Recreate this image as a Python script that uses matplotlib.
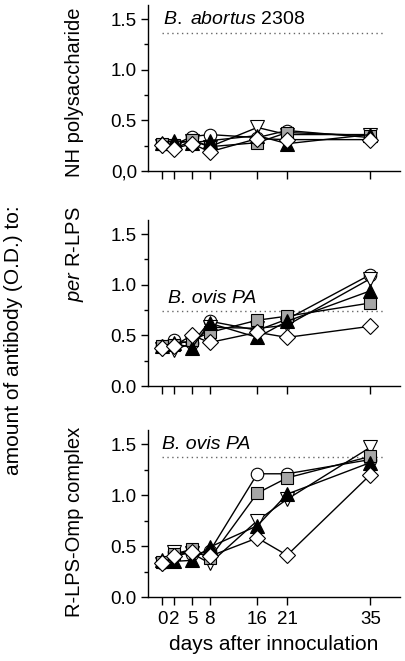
import matplotlib
matplotlib.use("Agg")
import matplotlib.pyplot as plt
from matplotlib.ticker import MultipleLocator

plt.rcParams['font.family'] = ['Liberation Sans', 'DejaVu Sans']
plt.rcParams['mathtext.fontset'] = 'custom'
plt.rcParams['mathtext.rm'] = 'Liberation Sans'
plt.rcParams['mathtext.it'] = 'Liberation Sans:italic'

days = [0, 2, 5, 8, 16, 21, 35]
xtick_labels = ['0', '2', '5', '8', '16', '21', '35']

# Panel 1: NH polysaccharide
nh_circle = [0.27, 0.26, 0.34, 0.36, 0.33, 0.40, 0.33]
nh_invtri = [0.25, 0.22, 0.30, 0.24, 0.43, 0.36, 0.36]
nh_square = [0.27, 0.26, 0.31, 0.24, 0.28, 0.38, 0.35]
nh_tri = [0.28, 0.30, 0.28, 0.30, 0.35, 0.27, 0.36]
nh_diamond = [0.26, 0.22, 0.27, 0.19, 0.32, 0.31, 0.31]

# Panel 2: per R-LPS
pr_circle = [0.40, 0.45, 0.42, 0.64, 0.55, 0.66, 1.10]
pr_invtri = [0.37, 0.36, 0.42, 0.58, 0.57, 0.60, 1.06]
pr_square = [0.40, 0.41, 0.45, 0.53, 0.65, 0.69, 0.82]
pr_tri = [0.40, 0.42, 0.38, 0.62, 0.48, 0.64, 0.94]
pr_diamond = [0.38, 0.40, 0.50, 0.43, 0.53, 0.48, 0.59]

# Panel 3: R-LPS-Omp complex
ro_circle = [0.33, 0.44, 0.42, 0.45, 1.21, 1.21, 1.35]
ro_invtri = [0.32, 0.44, 0.43, 0.33, 0.75, 0.96, 1.47]
ro_square = [0.34, 0.42, 0.47, 0.38, 1.02, 1.17, 1.38]
ro_tri = [0.36, 0.35, 0.36, 0.49, 0.70, 1.01, 1.32]
ro_diamond = [0.33, 0.40, 0.44, 0.40, 0.58, 0.41, 1.20]

ref_levels = [1.36, 0.74, 1.37]
ref_labels = [r'$\it{B.\ abortus}$ 2308', 'B. ovis PA', 'B. ovis PA']
panel_labels = ['NH polysaccharide', r'$\it{per}$ R-LPS', 'R-LPS-Omp complex']
ytick_labels_top = ['0,0', '0.5', '1.0', '1.5']
ytick_labels = ['0.0', '0.5', '1.0', '1.5']

panels = [
    [nh_circle, nh_invtri, nh_square, nh_tri, nh_diamond],
    [pr_circle, pr_invtri, pr_square, pr_tri, pr_diamond],
    [ro_circle, ro_invtri, ro_square, ro_tri, ro_diamond],
]

styles = [
    dict(marker='o', mfc='white', ms=9),
    dict(marker='v', mfc='white', ms=9.5),
    dict(marker='s', mfc='#a6a6a6', ms=8),
    dict(marker='^', mfc='black', ms=9.5),
    dict(marker='D', mfc='white', ms=8),
]

fig = plt.figure(figsize=(4.05, 6.61), dpi=100)
W, H = 405, 661
left, right = 148 / W, 400 / W
boxes = [(5, 171), (220, 386), (430, 597)]
label_bottoms = [177, 302, 617]
ref_text_pos = [(0.2, 1.50), (0.9, 0.86), (-0.1, 1.50)]

for i, (top, bot) in enumerate(boxes):
    ax = fig.add_axes([left, 1 - bot / H, right - left, (bot - top) / H])
    order = [4, 2, 0, 1, 3]
    for k in order:
        st = styles[k]
        ax.plot(days, panels[i][k], color='black', lw=1.0, marker=st['marker'],
                mfc=st['mfc'], mec='black', mew=0.8, ms=st['ms'], zorder=3 + k)
    ax.plot([0, 37.5], [ref_levels[i]] * 2, color='#666666', lw=1.0,
            ls=(0, (1, 2.5)), zorder=2)
    ax.set_xlim(-2.4, 40)
    ax.set_ylim(0, 1.64)
    ax.spines['top'].set_visible(False)
    ax.spines['right'].set_visible(False)
    ax.spines['left'].set_linewidth(1.0)
    ax.spines['bottom'].set_linewidth(1.0)
    ax.set_xticks(days)
    ax.set_yticks([0, 0.5, 1.0, 1.5])
    ax.yaxis.set_minor_locator(MultipleLocator(0.25))
    ax.set_yticklabels(ytick_labels_top if i == 0 else ytick_labels, fontsize=13.5)
    ax.tick_params(axis='y', which='major', direction='out', length=5, width=1, pad=3)
    ax.tick_params(axis='y', which='minor', direction='out', length=3, width=1)
    ax.tick_params(axis='x', which='major', direction='out', length=6, width=1, pad=4)
    if i == 2:
        ax.set_xticklabels(xtick_labels, fontsize=13.5)
    else:
        ax.set_xticklabels([])
    tx, ty = ref_text_pos[i]
    if i == 0:
        ax.text(tx, ty, ref_labels[i], fontsize=14, va='center', ha='left')
    else:
        ax.text(tx, ty, ref_labels[i], fontsize=14, va='center', ha='left', style='italic')
    fig.text(75 / W, 1 - label_bottoms[i] / H, panel_labels[i], rotation=90, fontsize=14.5,
             ha='center', va='bottom')
    if i == 2:
        ax.set_xlabel('days after innoculation', fontsize=15, labelpad=5)

fig.text(14 / W, 1 - 340 / H, 'amount of antibody (O.D.) to:', rotation=90,
         fontsize=15, ha='center', va='center')

fig.savefig('out.png', dpi=100)
